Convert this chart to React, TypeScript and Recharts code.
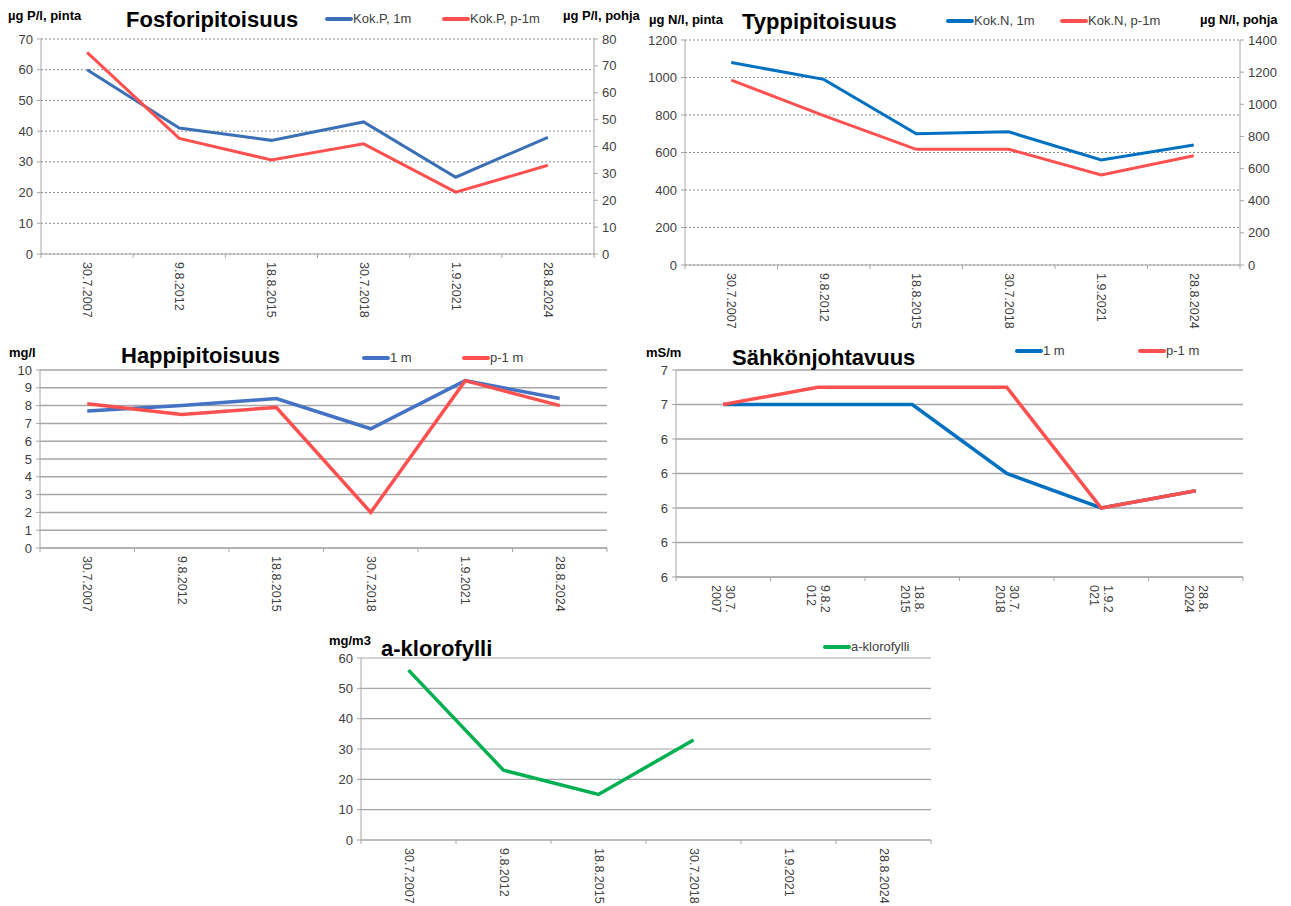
import React from "react";
import { LineChart, Line, XAxis, YAxis, CartesianGrid } from "recharts";

const dates = ["30.7.2007", "9.8.2012", "18.8.2015", "30.7.2018", "1.9.2021", "28.8.2024"];
// the conductivity panel wraps its dates in two lines
const datesWrapped = [
  ["30.7.", "2007"],
  ["9.8.2", "012"],
  ["18.8.", "2015"],
  ["30.7.", "2018"],
  ["1.9.2", "021"],
  ["28.8.", "2024"],
];

const pSurface = [60, 41, 37, 43, 25, 38];
const pBottom = [75, 43, 35, 41, 23, 33];
const nSurface = [1080, 990, 700, 710, 560, 640];
const nBottom = [1150, 930, 720, 720, 560, 680];
const o2Surface = [7.7, 8.0, 8.4, 6.7, 9.4, 8.4];
const o2Bottom = [8.1, 7.5, 7.9, 2.0, 9.4, 8.0];
const ecSurface = [6.6, 6.6, 6.6, 6.2, 6.0, 6.1];
const ecBottom = [6.6, 6.7, 6.7, 6.7, 6.0, 6.1];
const chla = [56, 23, 15, 33, null, null];

const pLeftTicks = [0, 10, 20, 30, 40, 50, 60, 70];
const pRightTicks = [0, 10, 20, 30, 40, 50, 60, 70, 80];
const nLeftTicks = [0, 200, 400, 600, 800, 1000, 1200];
const nRightTicks = [0, 200, 400, 600, 800, 1000, 1200, 1400];
const o2Ticks = [0, 1, 2, 3, 4, 5, 6, 7, 8, 9, 10];
const ecTicks = [5.6, 5.8, 6.0, 6.2, 6.4, 6.6, 6.8];
const chlaTicks = [0, 10, 20, 30, 40, 50, 60];

const pRows = dates.map((d, i) => ({ date: d, s: pSurface[i], b: pBottom[i] }));
const nRows = dates.map((d, i) => ({ date: d, s: nSurface[i], b: nBottom[i] }));
const o2Rows = dates.map((d, i) => ({ date: d, s: o2Surface[i], b: o2Bottom[i] }));
const ecRows = dates.map((d, i) => ({ date: d, s: ecSurface[i], b: ecBottom[i] }));
const chlaRows = dates.map((d, i) => ({ date: d, v: chla[i] }));

const FONT = "'Liberation Sans', Arial, sans-serif";
const AXIS = "#a6a6a6";
const TXT = "#404040";
const RED = "#ff5050";
const tickStyle = { fontSize: 13, fill: TXT, fontFamily: FONT };
const dateStyle = { fontSize: 12.5, fill: TXT, fontFamily: FONT };

function DateTick(props: any) {
  const { x, y, payload, index, bw, wrapped } = props;
  const lines: string[] = wrapped ? datesWrapped[index] : [payload.value];
  return (
    <g>
      {index === 0 && <line x1={x - bw / 2} x2={x - bw / 2} y1={y} y2={y + 4} stroke={AXIS} />}
      <line x1={x + bw / 2} x2={x + bw / 2} y1={y} y2={y + 4} stroke={AXIS} />
      <g transform={`translate(${x},${y + 8}) rotate(90)`}>
        {lines.length === 1 ? (
          <text x={0} y={0} textAnchor="start" dominantBaseline="central" {...dateStyle}>
            {lines[0]}
          </text>
        ) : (
          lines.map((t, i) => (
            <text key={i} x={0} y={i === 0 ? -7 : 7} textAnchor="start" dominantBaseline="central" {...dateStyle}>
              {t}
            </text>
          ))
        )}
      </g>
    </g>
  );
}

function Label({ x, y, text, size = 13, bold = true }: any) {
  return (
    <div
      style={{
        position: "absolute",
        left: x,
        top: y,
        fontSize: size,
        fontWeight: bold ? 700 : 400,
        fontFamily: FONT,
        color: "#000",
        whiteSpace: "nowrap",
        lineHeight: 1,
      }}
    >
      {text}
    </div>
  );
}

function LegendItem({ x, y, color, label }: any) {
  return (
    <div style={{ position: "absolute", left: x, top: y, display: "flex", alignItems: "center", whiteSpace: "nowrap" }}>
      <div style={{ width: 28, height: 4, background: color, borderRadius: 2 }} />
      <span style={{ fontSize: 13, fontFamily: FONT, color: TXT, lineHeight: 1 }}>{label}</span>
    </div>
  );
}

function axisProps(ticks: number[], domain: [number, number]) {
  return {
    type: "number" as const,
    domain,
    ticks,
    interval: 0 as const,
    tick: tickStyle,
    tickSize: 4,
    tickMargin: 4,
    axisLine: { stroke: AXIS },
    tickLine: { stroke: AXIS },
  };
}

// category positions sit in the middle of six equal bands
function xProps(plotW: number, height: number, wrapped = false) {
  const bw = plotW / 6;
  return {
    dataKey: "date",
    interval: 0 as const,
    tickSize: 0,
    tickMargin: 0,
    tickLine: false,
    height,
    padding: { left: bw / 2, right: bw / 2 },
    axisLine: { stroke: AXIS },
    tick: (p: any) => <DateTick {...p} bw={bw} wrapped={wrapped} />,
  };
}

export default function App() {
  return (
    <div style={{ position: "absolute", left: 0, top: 0, width: 1291, height: 906, background: "#fff" }}>
      {/* Fosfori */}
      <div style={{ position: "absolute", left: 0, top: 0 }}>
        <LineChart width={640} height={330} data={pRows} margin={{ top: 39, right: 6, left: 11, bottom: 6 }}>
          <CartesianGrid yAxisId="l" vertical={false} stroke="#8c8c8c" strokeDasharray="2 2" />
          <XAxis {...xProps(553, 70)} />
          <YAxis yAxisId="l" width={30} {...axisProps(pLeftTicks, [0, 70])} />
          <YAxis yAxisId="r" orientation="right" width={40} {...axisProps(pRightTicks, [0, 80])} />
          <Line yAxisId="l" dataKey="s" stroke="#3b70b6" strokeWidth={3} dot={false} isAnimationActive={false} />
          <Line yAxisId="r" dataKey="b" stroke={RED} strokeWidth={3} dot={false} isAnimationActive={false} />
        </LineChart>
      </div>
      <Label x={8} y={9} text="µg P/l, pinta" />
      <Label x={126} y={9} text="Fosforipitoisuus" size={22} />
      <LegendItem x={325} y={12} color="#3b70b6" label="Kok.P, 1m" />
      <LegendItem x={442} y={12} color={RED} label="Kok.P, p-1m" />
      <Label x={563} y={9} text="µg P/l, pohja" />

      {/* Typpi */}
      <div style={{ position: "absolute", left: 640, top: 0 }}>
        <LineChart width={651} height={336} data={nRows} margin={{ top: 40, right: 11, left: 10, bottom: 6 }}>
          <CartesianGrid yAxisId="l" vertical={false} stroke="#8c8c8c" strokeDasharray="2 2" />
          <XAxis {...xProps(555, 65)} />
          <YAxis yAxisId="l" width={35} {...axisProps(nLeftTicks, [0, 1200])} />
          <YAxis yAxisId="r" orientation="right" width={40} {...axisProps(nRightTicks, [0, 1400])} />
          <Line yAxisId="l" dataKey="s" stroke="#0070c0" strokeWidth={3} dot={false} isAnimationActive={false} />
          <Line yAxisId="r" dataKey="b" stroke={RED} strokeWidth={3} dot={false} isAnimationActive={false} />
        </LineChart>
      </div>
      <Label x={649} y={13} text="µg N/l, pinta" />
      <Label x={742} y={11} text="Typpipitoisuus" size={22} />
      <LegendItem x={946} y={14} color="#0070c0" label="Kok.N, 1m" />
      <LegendItem x={1060} y={14} color={RED} label="Kok.N, p-1m" />
      <Label x={1200} y={13} text="µg N/l, pohja" />

      {/* Happi */}
      <div style={{ position: "absolute", left: 0, top: 340 }}>
        <LineChart width={640} height={300} data={o2Rows} margin={{ top: 30, right: 33, left: 10, bottom: 7 }}>
          <CartesianGrid vertical={false} stroke={AXIS} strokeWidth={1.5} />
          <XAxis {...xProps(567, 85)} />
          <YAxis width={30} {...axisProps(o2Ticks, [0, 10])} />
          <Line dataKey="s" stroke="#4472c4" strokeWidth={3.5} dot={false} isAnimationActive={false} />
          <Line dataKey="b" stroke={RED} strokeWidth={3.5} dot={false} isAnimationActive={false} />
        </LineChart>
      </div>
      <Label x={9} y={346} text="mg/l" />
      <Label x={121} y={345} text="Happipitoisuus" size={22} />
      <LegendItem x={362} y={351} color="#4472c4" label="1 m" />
      <LegendItem x={462} y={351} color={RED} label="p-1 m" />

      {/* Sähkönjohtavuus */}
      <div style={{ position: "absolute", left: 640, top: 340 }}>
        <LineChart width={651} height={300} data={ecRows} margin={{ top: 30, right: 48, left: 6, bottom: 8 }}>
          <CartesianGrid vertical={false} stroke={AXIS} strokeWidth={1.5} />
          <XAxis {...xProps(567, 55, true)} />
          <YAxis width={30} {...axisProps(ecTicks, [5.6, 6.8])} tickFormatter={(v: number) => String(Math.round(v))} />
          <Line dataKey="s" stroke="#0070c0" strokeWidth={3.5} dot={false} isAnimationActive={false} />
          <Line dataKey="b" stroke={RED} strokeWidth={3.5} dot={false} isAnimationActive={false} />
        </LineChart>
      </div>
      <Label x={646} y={346} text="mS/m" />
      <Label x={732} y={347} text="Sähkönjohtavuus" size={22} />
      <LegendItem x={1015} y={344} color="#0070c0" label="1 m" />
      <LegendItem x={1138} y={344} color={RED} label="p-1 m" />

      {/* a-klorofylli */}
      <div style={{ position: "absolute", left: 300, top: 630 }}>
        <LineChart width={650} height={276} data={chlaRows} margin={{ top: 28, right: 19, left: 31, bottom: 6 }}>
          <CartesianGrid vertical={false} stroke={AXIS} strokeWidth={1.2} />
          <XAxis {...xProps(570, 60)} />
          <YAxis width={30} {...axisProps(chlaTicks, [0, 60])} />
          <Line dataKey="v" stroke="#00b050" strokeWidth={3.5} dot={false} isAnimationActive={false} />
        </LineChart>
      </div>
      <Label x={329} y={634} text="mg/m3" />
      <Label x={381} y={638} text="a-klorofylli" size={22} />
      <LegendItem x={823} y={640} color="#00b050" label="a-klorofylli" />
    </div>
  );
}
